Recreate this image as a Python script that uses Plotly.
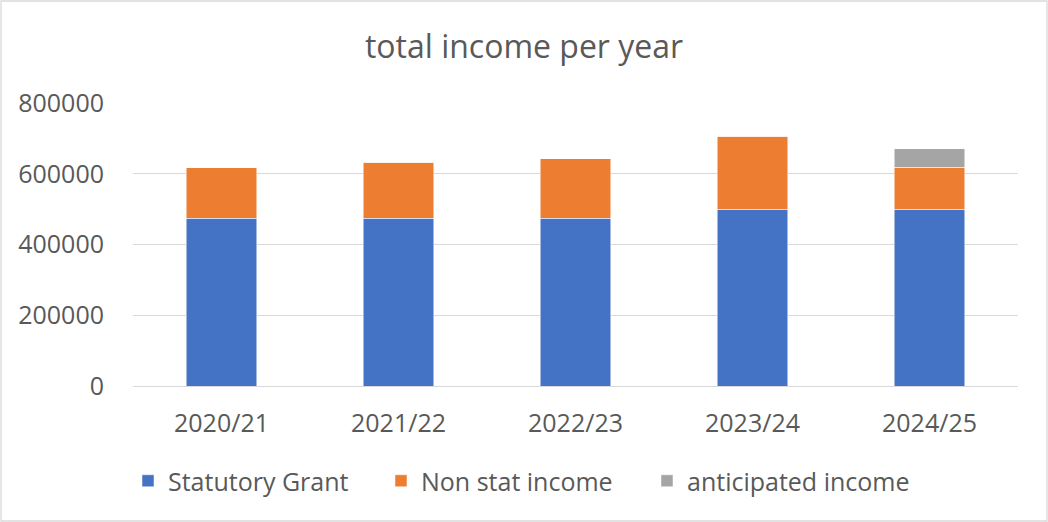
import plotly.graph_objects as go

years = ["2020/21", "2021/22", "2022/23", "2023/24", "2024/25"]
statutory_grant = [474000, 474000, 474000, 500000, 500000]
non_stat_income = [143000, 159000, 168000, 206000, 118000]
anticipated_income = [0, 0, 0, 0, 52000]

FONT = "Open Sans"
TXT = "#595959"
W, H = 1048, 522
ML, MR, MT, MB = 133, 30, 103, 136
PW = W - ML - MR
PH = H - MT - MB

fig = go.Figure()
fig.add_trace(go.Bar(name="Statutory Grant", x=years, y=statutory_grant, legend="legend",
                     marker=dict(color="#4472C4", line=dict(color="white", width=0.5))))
fig.add_trace(go.Bar(name="Non stat income", x=years, y=non_stat_income, legend="legend2",
                     marker=dict(color="#ED7D31", line=dict(color="white", width=0.5))))
fig.add_trace(go.Bar(name="anticipated income", x=years, y=anticipated_income, legend="legend3",
                     marker=dict(color="#A5A5A5", line=dict(color="white", width=0.5))))


def leg(px):
    return dict(orientation="h", x=(px - ML) / PW, xanchor="left",
                y=(386 - 481) / PH, yanchor="middle",
                font=dict(size=25, color=TXT), itemwidth=30,
                bgcolor="rgba(0,0,0,0)")


fig.update_layout(
    barmode="stack",
    bargap=0.6,
    showlegend=True,
    width=W, height=H,
    margin=dict(l=ML, r=MR, t=MT, b=MB),
    paper_bgcolor="white", plot_bgcolor="white",
    font=dict(family=FONT, color=TXT, size=25),
    title=dict(text="total income per year", x=0.5, xanchor="center",
               y=1 - 47 / H, yanchor="middle",
               font=dict(family=FONT, size=32, color=TXT)),
    xaxis=dict(showgrid=False, showline=False, ticks="", ticklabelstandoff=20,
               tickfont=dict(size=25, color=TXT)),
    yaxis=dict(range=[0, 800000], dtick=200000, tickformat="d",
               showgrid=True, gridcolor="#D9D9D9", gridwidth=1.3,
               zeroline=True, zerolinecolor="#D9D9D9", zerolinewidth=1.3,
               showline=False, ticks="", ticklabelstandoff=28,
               tickfont=dict(size=25, color=TXT)),
    legend=leg(128),
    legend2=leg(381),
    legend3=leg(647),
    shapes=[dict(type="rect", xref="paper", yref="paper",
                 x0=(-ML + 1) / PW, x1=1 + (MR - 1) / PW,
                 y0=(-MB + 1) / PH, y1=1 + (MT - 1) / PH,
                 line=dict(color="#D9D9D9", width=1.3), layer="below")],
)

fig.write_html("out.html", config={"displayModeBar": False},
               post_script="document.body.style.margin='0';document.body.style.padding='0';")
